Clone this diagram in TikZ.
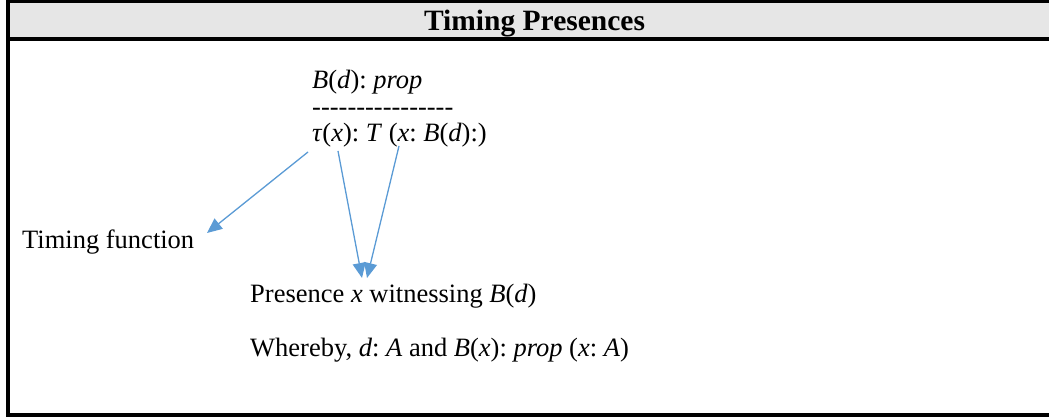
\documentclass[tikz,border=0pt]{standalone}
\usepackage{fontspec}
\setmainfont{Liberation Serif}
\usetikzlibrary{arrows.meta}
\definecolor{hdrgrey}{HTML}{E6E6E6}
\definecolor{arrblue}{HTML}{5B9BD5}
\frenchspacing
\tikzset{
  txt/.style={anchor=base west, inner sep=0pt, font=\fontsize{26.5}{30}\selectfont},
  ttl/.style={anchor=base, inner sep=0pt, font=\fontsize{29.5}{32}\selectfont\bfseries},
  frame/.style={line width=4pt, black},
  conn/.style={draw=arrblue, line width=1.3pt, -{Triangle[length=15pt,width=13pt]}, fill=arrblue}
}
\begin{document}
\begin{tikzpicture}[x=1pt,y=-1pt]
\useasboundingbox (0,0) rectangle (1049,419);
% header band
\fill[hdrgrey] (10,3) rectangle (1052,37);
\draw[line width=3.5pt] (6,1.6) -- (1052,1.6);
\draw[frame] (6,39) -- (1052,39);
\draw[frame] (8,0) -- (8,417);
\draw[frame] (6,415) -- (1052,415);
\node[ttl] (title) at (534.5,31) {Timing Presences};
% texts
\node[txt] (prop) at (312,89) {\textit{B}(\textit{d}): \textit{prop}};
\node[txt] (dash) at (312,116) {-{}-{}-{}-{}-{}-{}-{}-{}-{}-{}-{}-{}-{}-{}-{}-{}};
\node[txt] (tau) at (312,142) {\textit{τ}(\textit{x}): \textit{T} (\textit{x}: \textit{B}(\textit{d}):)};
\node[txt] (timing) at (22,249) {Timing function};
\node[txt] (presence) at (250,303) {Presence \textit{x} witnessing \textit{B}(\textit{d})};
\node[txt] (whereby) at (250,356) {Whereby, \textit{d}: \textit{A} and \textit{B}(\textit{x}): \textit{prop} (\textit{x}: \textit{A})};
% connector end points
\coordinate (s1) at (308,152);
\coordinate (e1) at (207,233);
\coordinate (s2) at (338,151);
\coordinate (e2) at (362,278);
\coordinate (s3) at (399,146);
\coordinate (e3) at (367,278);
\draw[conn] (s1) -- (e1);
\draw[conn] (s2) -- (e2);
\draw[conn] (s3) -- (e3);
\end{tikzpicture}
\end{document}
